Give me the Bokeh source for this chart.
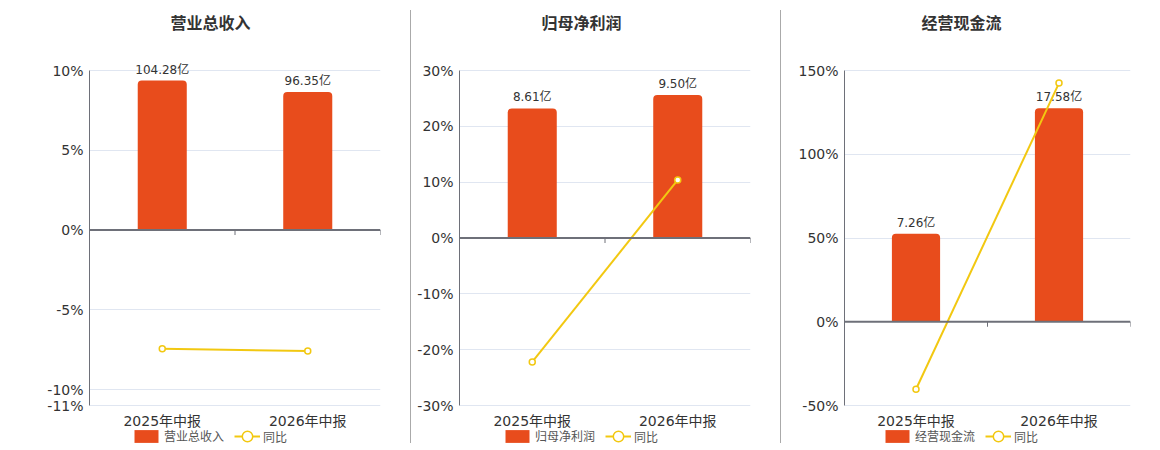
from math import pi
from bokeh.plotting import figure
from bokeh.models import (Range1d, FixedTicker, Span, Legend, LegendItem, Label,
                          ColumnDataSource, Div, CustomJSTickFormatter)
from bokeh.layouts import row
from bokeh.embed import file_html
from bokeh.resources import INLINE
from bokeh.core.properties import value

categories = ["2025年中报", "2026年中报"]

titles = ["营业总收入", "归母净利润", "经营现金流"]
bar_values = [[104.28, 96.35], [8.61, 9.50], [7.26, 17.58]]
bar_labels = [["104.28亿", "96.35亿"], ["8.61亿", "9.50亿"], ["7.26亿", "17.58亿"]]
yoy_values = [[-7.45, -7.58], [-22.2, 10.4], [-40.3, 142.5]]

pct_ticks = [[-11, -10, -5, 0, 5, 10], [-30, -20, -10, 0, 10, 20, 30], [-50, 0, 50, 100, 150]]
pct_ranges = [(-11, 10), (-30, 30), (-50, 150)]
bar_ranges = [(-122.2, 111.25), (-11.13, 11.13), (-6.87, 20.68)]

# layout (pixels)
fig_w = [410, 369, 378]
b_left = [89, 48, 63]
b_right = [30, 30, 29]
title_cx = [210, 170, 180]      # title / legend centre, relative to each panel's left edge
H = 449
PLOT_TOP = 70                   # top grid line
PLOT_BOT = 405                  # bottom grid line

BAR = "#E84C1C"
LINE = "#F2C811"
FONT = "DejaVu Sans, Noto Sans CJK SC"


def ext_range(lo, hi):
    u = (hi - lo) / (PLOT_BOT - PLOT_TOP)
    return Range1d(lo - (H - PLOT_BOT) * u, hi + PLOT_TOP * u)


def legend_box(items, x, y, gw, gh):
    return Legend(items=items, orientation="horizontal", location=(x, y),
                  glyph_width=gw, glyph_height=gh, label_height=gh,
                  label_standoff=3, spacing=0, padding=0, margin=0,
                  border_line_color=None, background_fill_alpha=0,
                  label_text_font=FONT, label_text_font_size="12px",
                  label_text_color="#555555")


def make(i):
    n = len(categories)
    xs = list(range(n))
    lo, hi = pct_ranges[i]
    p = figure(width=fig_w[i], height=H, output_backend="svg", toolbar_location=None,
               x_range=Range1d(-0.5, n - 0.5), y_range=ext_range(lo, hi),
               x_axis_location=None,
               min_border_left=b_left[i], min_border_right=b_right[i],
               min_border_top=0, min_border_bottom=0, margin=0)
    p.outline_line_color = None
    p.background_fill_color = "white"
    p.border_fill_color = "white"
    p.extra_y_ranges = {"bar": ext_range(*bar_ranges[i])}

    # y axis (percent)
    p.yaxis.ticker = FixedTicker(ticks=pct_ticks[i])
    p.yaxis.bounds = (lo, hi)
    p.yaxis.formatter = CustomJSTickFormatter(code="return tick + '%';")
    p.yaxis.axis_line_color = "#6E7079"
    p.yaxis.major_tick_line_color = None
    p.yaxis.major_tick_out = 0
    p.yaxis.major_tick_in = 0
    p.yaxis.minor_tick_line_color = None
    p.yaxis.major_label_text_font = FONT
    p.yaxis.major_label_text_font_size = "14px"
    p.yaxis.major_label_text_color = "#333333"
    p.yaxis.major_label_standoff = 6

    p.xgrid.grid_line_color = None
    p.ygrid.ticker = FixedTicker(ticks=pct_ticks[i])
    p.ygrid.grid_line_color = "#E0E6F1"
    p.ygrid.grid_line_width = 1

    src = ColumnDataSource(dict(x=xs, cat=categories, low=[lo] * n, v=bar_values[i],
                                lab=bar_labels[i], yoy=yoy_values[i]))
    bars = p.vbar(x="x", top="v", bottom=0, width=0.337, source=src, y_range_name="bar",
                  fill_color=BAR, line_color=None, border_radius=[4, 4, 0, 0])
    p.text(x="x", y="v", text="lab", source=src, y_range_name="bar", y_offset=-4,
           text_align="center", text_baseline="bottom", text_font=value(FONT),
           text_font_size="12px", text_color="#333333")

    # category labels under the plot area
    p.text(x="x", y="low", text="cat", source=src, y_offset=15,
           text_align="center", text_baseline="middle", text_font=value(FONT),
           text_font_size="14px", text_color="#333333")

    # zero axis line with category-boundary ticks
    p.add_layout(Span(location=0, dimension="width", line_color="#6E7079", line_width=2))
    bounds = [k - 0.5 for k in range(n + 1)]
    p.ray(x=bounds, y=[0] * len(bounds), length=5, length_units="screen",
          angle=-pi / 2, line_color="#6E7079", line_width=1)

    ln = p.line(x="x", y="yoy", source=src, line_color=LINE, line_width=2)
    pts = p.circle(x="x", y="yoy", source=src, radius=3, radius_units="screen",
                   fill_color="white", line_color=LINE, line_width=1.5)

    # title
    p.add_layout(Label(x=title_cx[i] - b_left[i], y=H - 23, x_units="screen", y_units="screen",
                       text=titles[i], text_align="center", text_baseline="middle",
                       text_font=FONT, text_font_size="16px", text_font_style="bold",
                       text_color="#333333"))

    lx = title_cx[i] - b_left[i] - 79
    p.add_layout(legend_box([LegendItem(label=titles[i], renderers=[bars])], lx, 5, 30, 16))
    p.add_layout(legend_box([LegendItem(label="同比", renderers=[ln, pts])], lx + 103, 0, 26, 26))
    return p


def sep():
    return Div(width=1, height=433, margin=(10, 0, 0, 0),
               styles={"background-color": "#AAAAAA"})


figs = [make(i) for i in range(3)]
layout = row(figs[0], sep(), figs[1], sep(), figs[2], spacing=0, margin=0)
open("out.html", "w").write(file_html(layout, INLINE))
